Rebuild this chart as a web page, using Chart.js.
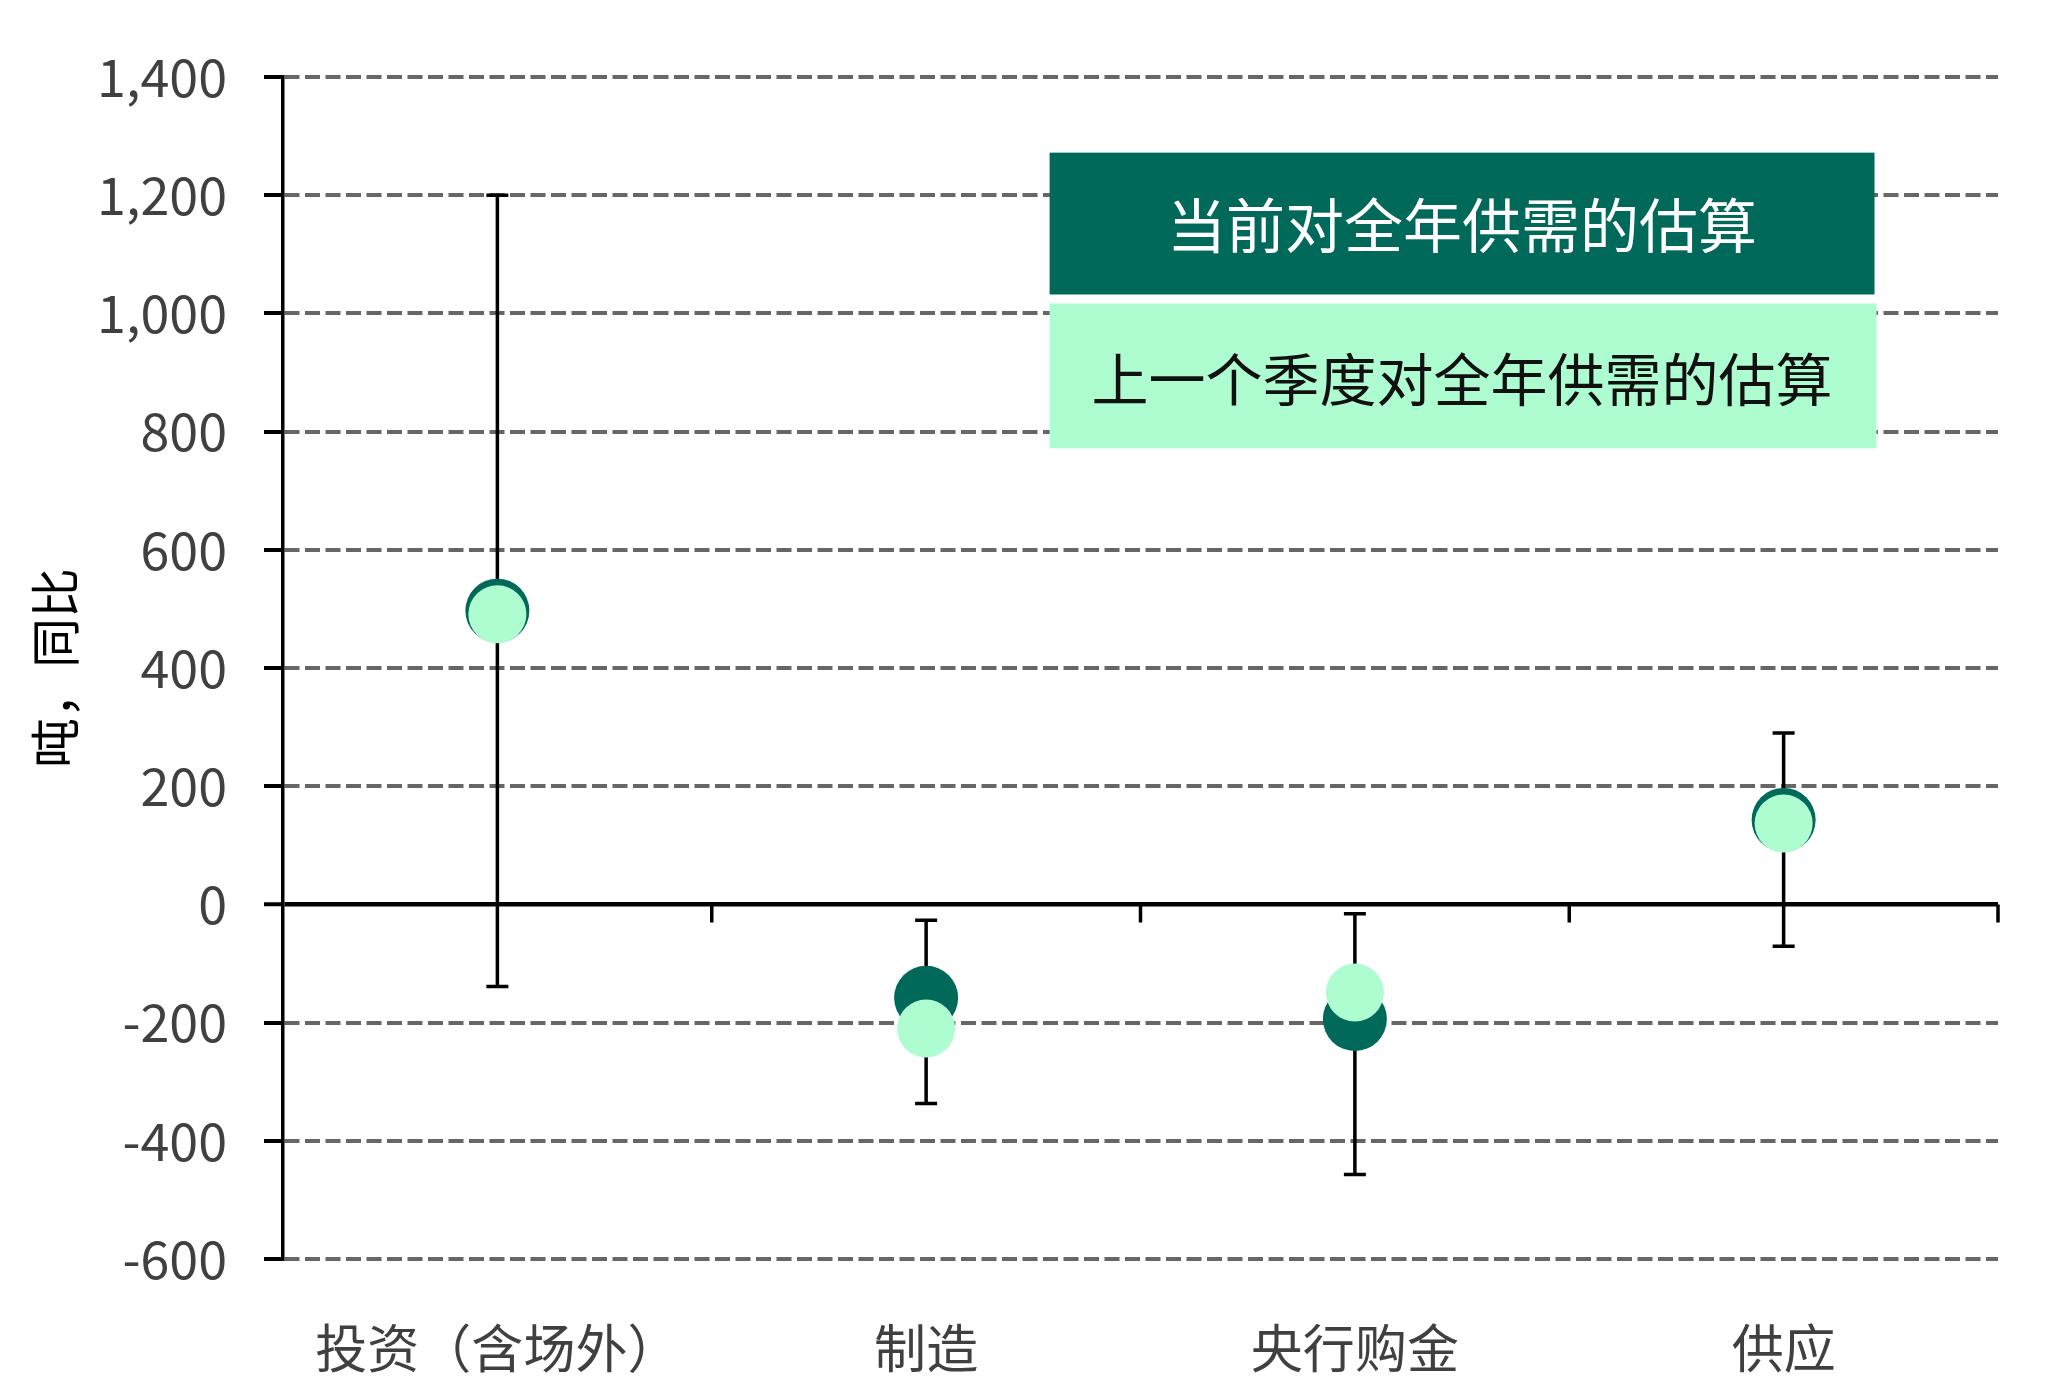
<!DOCTYPE html>
<html>
<head>
<meta charset="utf-8">
<script src="https://cdn.jsdelivr.net/npm/chart.js@4/dist/chart.umd.min.js"></script>
<style>
  html, body { margin: 0; padding: 0; background: #fff; }
  #wrap { width: 2066px; height: 1394px; }
</style>
</head>
<body>
<div id="wrap"><canvas id="goldcanvas" width="2066" height="1394"></canvas></div>
<script>
// categories and values (tonnes, y/y)
var categories = ['投资（含场外）', '制造', '央行购金', '供应'];
var currentEst = [497, -158, -194, 143];
var previousEst = [491, -210, -149, 137];
var rangeHigh = [1200, -27, -16, 290];
var rangeLow = [-139, -337, -457, -71];
var yTicks = [-600, -400, -200, 0, 200, 400, 600, 800, 1000, 1200, 1400];

var legendLabels = ['当前对全年供需的估算', '上一个季度对全年供需的估算'];

var darkGreen = '#00695a';
var lightGreen = '#aefdd0';
var fontCN = "'Noto Sans CJK SC', 'Noto Sans', sans-serif";

// error bars behind the markers, small ticks on the zero line
var rangePlugin = {
	id: 'rangeBars',
	beforeDatasetsDraw: function(chart) {
		var ctx = chart.ctx, x = chart.scales.x, y = chart.scales.y;
		ctx.save();
		ctx.strokeStyle = '#000';
		ctx.lineWidth = 3.5;
		for (var i = 0; i < categories.length; i++) {
			var px = x.getPixelForValue(i);
			var top = y.getPixelForValue(rangeHigh[i]);
			var bot = y.getPixelForValue(rangeLow[i]);
			ctx.beginPath();
			ctx.moveTo(px, top); ctx.lineTo(px, bot);
			ctx.moveTo(px - 11, top); ctx.lineTo(px + 11, top);
			ctx.moveTo(px - 11, bot); ctx.lineTo(px + 11, bot);
			ctx.stroke();
		}
		// category boundary ticks on the zero line
		var zy = y.getPixelForValue(0);
		ctx.lineWidth = 3.5;
		ctx.beginPath();
		for (var j = 0; j < categories.length; j++) {
			var bx = j < categories.length - 1
				? (x.getPixelForValue(j) + x.getPixelForValue(j + 1)) / 2
				: chart.chartArea.right;
			ctx.moveTo(bx, zy); ctx.lineTo(bx, zy + 18);
		}
		ctx.stroke();
		ctx.restore();
	}
};

// legend as two stacked coloured boxes
var boxLegend = {
	id: 'boxLegend',
	afterDraw: function(chart) {
		var ctx = chart.ctx, a = chart.chartArea;
		var w = a.right - a.left, h = a.bottom - a.top;
		var bx = a.left + w * 0.447, bw = w * 0.481;
		var by = a.top + h * 0.064, bh = h * 0.12;
		var gap = h * 0.0076;
		ctx.save();
		ctx.fillStyle = darkGreen;
		ctx.fillRect(bx, by, bw, bh);
		ctx.fillStyle = lightGreen;
		ctx.fillRect(bx, by + bh + gap, bw + 2, bh + 3);
		ctx.textAlign = 'center';
		ctx.textBaseline = 'middle';
		ctx.fillStyle = '#ffffff';
		ctx.font = '59px ' + fontCN;
		ctx.fillText(legendLabels[0], bx + bw / 2, by + bh / 2 + 2);
		ctx.fillStyle = '#111111';
		ctx.font = '57px ' + fontCN;
		ctx.fillText(legendLabels[1], bx + bw / 2, by + bh + gap + bh / 2 + 5);
		ctx.restore();
	}
};

window.onload = function(){
	var ctx = document.getElementById('goldcanvas').getContext('2d');
	window.myChart = new Chart(ctx, {
		type: 'line',
		data: {
			labels: categories,
			datasets: [
				{
					label: legendLabels[1],
					data: previousEst,
					showLine: false,
					pointRadius: 29,
					pointHoverRadius: 29,
					pointBackgroundColor: lightGreen,
					pointBorderWidth: 0,
					order: 1
				},
				{
					label: legendLabels[0],
					data: currentEst,
					showLine: false,
					pointRadius: 32,
					pointHoverRadius: 32,
					pointBackgroundColor: darkGreen,
					pointBorderWidth: 0,
					order: 2
				}
			]
		},
		options: {
			responsive: false,
			animation: false,
			devicePixelRatio: 1,
			layout: { padding: { top: 77, right: 68, left: 0, bottom: 0 } },
			plugins: {
				legend: { display: false },
				tooltip: { enabled: false }
			},
			scales: {
				x: {
					offset: true,
					grid: { display: false },
					border: { display: false },
					ticks: {
						padding: 50,
						color: '#404040',
						font: { family: fontCN, size: 52 }
					},
					afterFit: function(s) { s.height = 135; }
				},
				y: {
					min: -600,
					max: 1400,
					afterBuildTicks: function(s) {
						s.ticks = yTicks.map(function(v) { return { value: v }; });
					},
					grid: {
						color: function(c) { return c.tick && c.tick.value === 0 ? '#000' : '#666666'; },
						lineWidth: function(c) { return c.tick && c.tick.value === 0 ? 4.5 : 4; },
						tickColor: '#000',
						tickWidth: 4,
						tickLength: 19
					},
					border: {
						display: true,
						color: '#000',
						width: 3.5,
						dash: function(c) { return c.tick && c.tick.value === 0 ? [] : [15, 5.5]; }
					},
					ticks: {
						padding: 37,
						color: '#404040',
						font: { family: fontCN, size: 52 },
						callback: function(v) { return Number(v).toLocaleString('en-US'); }
					},
					title: {
						display: true,
						text: '吨，同比',
						color: '#000',
						padding: { top: 25, bottom: 0 },
						font: { family: fontCN, size: 50 }
					},
					afterFit: function(s) { s.width = 283; }
				}
			}
		},
		plugins: [rangePlugin, boxLegend]
	});
};
</script>
</body>
</html>
